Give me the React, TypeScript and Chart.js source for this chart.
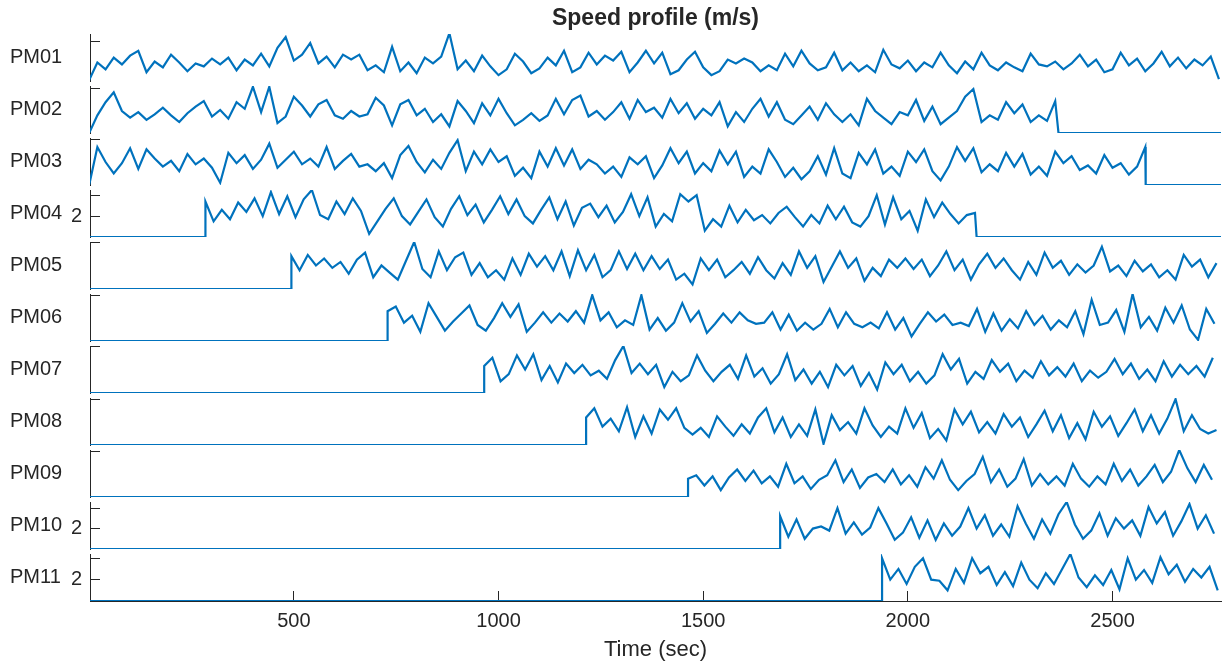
import React, { useEffect, useRef } from "react";
import { Chart, registerables } from "chart.js";

Chart.register(...registerables);

const FONT = "'Liberation Sans', Arial, Helvetica, sans-serif";
const TEXT = "#262626";
const LINE = "#0072BD";

Chart.defaults.font.family = FONT;
Chart.defaults.color = TEXT;

// ---------------- data ----------------
const TITLE = "Speed profile (m/s)";
const X_TITLE = "Time (sec)";
const STEP = 20; // seconds between readings
const X_MIN = 2;
const X_MAX = 2765;
const X_TICKS = [500, 1000, 1500, 2000, 2500];

const NAMES = ["PM01", "PM02", "PM03", "PM04", "PM05", "PM06", "PM07", "PM08", "PM09", "PM10", "PM11"];
const STARTS = [0, 0, 0, 284, 494, 729, 965, 1214, 1463, 1688, 1937];
const ENDS: (number | null)[] = [null, 2368, 2581, 2168, null, null, null, null, null, null, null];
const Y_MAX = [4.82, 4.27, 4.09, 4.5, 4.0, 4.1, 4.0, 4.1, 4.1, 4.6, 4.4];
const Y_TICKS = [[4], [4], [4], [2, 4], [4], [4], [4], [4], [4], [2, 4], [2, 4]];
const Y_LABELLED = [2];

const PM01 = [
  0.1, 1.9, 1.2, 2.4, 1.7, 2.6, 3.1, 0.9, 2.0, 1.4,
  2.7, 1.9, 1.0, 1.8, 1.5, 2.3, 1.7, 2.4, 1.1, 2.2,
  1.6, 2.8, 1.5, 3.4, 4.5, 2.1, 2.7, 3.9, 1.8, 2.5,
  1.4, 2.7, 2.2, 2.7, 1.1, 1.6, 0.9, 3.5, 1.0, 1.9,
  0.8, 2.4, 1.8, 2.5, 4.9, 1.2, 2.1, 1.0, 2.6, 1.5,
  0.6, 1.2, 2.8, 2.0, 0.8, 1.3, 2.4, 1.6, 3.1, 0.9,
  1.4, 2.9, 1.7, 2.6, 2.1, 3.0, 0.9, 1.9, 3.1, 1.8,
  2.9, 0.7, 1.1, 2.2, 3.0, 1.4, 0.6, 1.0, 2.2, 1.8,
  2.3, 1.9, 1.0, 1.6, 1.1, 2.8, 1.5, 3.1, 1.8, 1.1,
  1.4, 2.9, 1.1, 1.9, 1.0, 1.6, 0.9, 3.2, 1.7, 1.3,
  2.1, 1.0, 1.9, 1.4, 2.9, 1.6, 0.8, 2.0, 1.2, 2.9,
  1.6, 1.1, 1.9, 1.4, 1.0, 2.8, 1.7, 1.5, 2.0, 1.2,
  1.8, 2.7, 1.5, 2.2, 0.9, 1.2, 2.9, 1.6, 2.3, 1.0,
  1.8, 3.0, 1.5, 2.4, 1.3, 2.2, 1.6, 2.5, 0.2,
];
const PM02 = [
  0.0, 1.6, 2.8, 3.7, 2.0, 1.4, 1.9, 1.2, 1.7, 2.3,
  1.6, 1.0, 1.8, 2.4, 2.9, 1.5, 2.1, 1.3, 2.8, 2.2,
  4.2, 1.9, 4.2, 0.9, 1.5, 3.3, 2.5, 1.5, 2.6, 3.0,
  1.6, 1.3, 2.0, 1.5, 1.7, 3.2, 2.5, 0.7, 2.6, 3.0,
  1.6, 2.2, 1.0, 1.7, 0.6, 2.9, 2.0, 0.9, 2.7, 1.6,
  3.1, 1.8, 0.7, 1.2, 1.8, 1.1, 1.6, 3.1, 1.7, 3.0,
  3.4, 1.5, 2.0, 1.2, 1.9, 2.8, 1.3, 3.0, 1.9, 2.3,
  1.4, 3.1, 1.8, 2.7, 1.3, 2.2, 1.6, 2.8, 0.6, 1.9,
  1.0, 2.2, 3.1, 1.5, 2.8, 1.2, 0.8, 1.6, 2.4, 1.2,
  2.7, 1.7, 1.0, 1.7, 0.7, 3.1, 2.0, 1.4, 0.8, 1.9,
  1.6, 3.0, 1.1, 2.4, 0.8, 1.4, 2.0, 3.3, 4.0, 1.0,
  1.6, 1.2, 2.8, 1.8, 2.6, 1.0, 1.6, 1.1, 2.9,
];
const PM03 = [
  0.0, 3.3, 2.0, 1.0, 1.9, 3.2, 1.4, 3.1, 2.3, 1.6,
  2.1, 1.2, 2.7, 1.8, 2.3, 1.5, 0.2, 2.8, 1.9, 2.6,
  1.4, 2.2, 3.6, 1.5, 2.2, 2.9, 1.8, 2.3, 1.6, 3.3,
  1.4, 2.1, 2.7, 1.6, 1.8, 1.2, 1.9, 0.6, 2.6, 3.4,
  2.0, 1.1, 2.2, 1.4, 2.8, 3.9, 1.2, 2.9, 1.8, 3.1,
  2.0, 2.5, 0.8, 1.5, 0.6, 2.9, 1.6, 3.2, 1.7, 3.1,
  1.4, 2.2, 1.8, 1.0, 1.6, 0.7, 2.4, 1.8, 2.5, 0.6,
  1.7, 3.2, 1.9, 2.9, 1.0, 1.9, 1.2, 3.0, 1.8, 2.9,
  0.7, 1.6, 1.0, 3.1, 2.0, 0.7, 1.5, 0.5, 1.2, 2.5,
  0.9, 3.2, 1.0, 0.6, 2.8, 1.8, 3.1, 1.0, 1.6, 0.8,
  2.9, 2.0, 3.1, 1.2, 0.4, 1.6, 3.3, 2.1, 3.2, 1.1,
  1.8, 1.2, 2.8, 1.6, 2.7, 0.9, 1.6, 0.8, 2.9, 1.9,
  2.5, 1.3, 1.7, 1.0, 2.6, 1.5, 1.9, 0.9, 1.6, 3.3,
];
const PM04 = [
  3.4, 1.5, 2.6, 1.7, 3.3, 2.4, 3.7, 2.0, 4.3, 2.2,
  3.9, 1.9, 3.6, 4.5, 2.1, 1.7, 3.4, 2.2, 3.7, 2.5,
  0.3, 1.5, 2.7, 3.7, 2.0, 1.2, 2.4, 3.6, 1.9, 1.0,
  2.7, 3.9, 2.1, 3.1, 1.4, 2.6, 3.9, 2.2, 3.6, 2.0,
  1.3, 2.6, 3.8, 1.7, 3.4, 1.1, 2.8, 3.2, 1.9, 3.0,
  1.4, 2.4, 4.1, 2.0, 3.8, 1.0, 2.2, 1.5, 4.1, 3.4,
  4.0, 0.6, 1.7, 1.0, 3.0, 1.4, 2.6, 1.6, 2.1, 1.3,
  2.3, 2.9, 1.9, 1.0, 2.1, 1.3, 3.0, 1.7, 2.9, 1.4,
  1.0, 2.0, 4.0, 1.2, 3.8, 1.7, 2.5, 0.6, 3.6, 1.9,
  3.3, 2.2, 1.3, 2.1, 2.3,
];
const PM05 = [
  2.8, 1.6, 2.9, 2.0, 2.6, 1.8, 2.3, 1.3, 2.5, 3.1,
  1.0, 2.0, 1.4, 0.8, 2.4, 4.0, 1.7, 1.0, 3.2, 1.6,
  2.7, 3.1, 1.2, 2.2, 1.0, 1.6, 0.8, 2.6, 1.2, 3.0,
  1.9, 2.8, 1.6, 3.2, 1.1, 3.3, 1.6, 2.9, 1.0, 1.6,
  3.2, 1.7, 3.0, 1.6, 2.8, 1.7, 2.5, 0.8, 1.3, 0.4,
  2.6, 1.6, 2.5, 1.0, 1.6, 2.3, 1.3, 2.7, 1.6, 0.9,
  2.2, 1.2, 3.2, 1.8, 2.8, 0.6, 1.9, 3.2, 1.8, 2.6,
  0.7, 1.8, 1.1, 2.5, 1.8, 2.6, 1.7, 2.5, 1.1, 2.0,
  3.2, 1.6, 2.5, 0.8, 2.1, 3.0, 1.8, 2.6, 1.6, 0.8,
  2.3, 1.2, 3.1, 1.8, 2.4, 1.2, 2.1, 1.4, 2.0, 3.6,
  1.5, 2.0, 1.1, 2.4, 1.5, 2.1, 1.0, 1.6, 0.8, 2.9,
  1.9, 2.5, 1.0, 2.2,
];
const PM06 = [
  2.6, 3.0, 1.6, 2.2, 0.8, 3.3, 2.1, 0.9, 1.7, 2.4,
  3.1, 1.4, 0.9, 2.0, 3.3, 2.1, 3.2, 0.8, 1.6, 2.5,
  1.6, 2.4, 1.7, 2.6, 1.6, 4.0, 1.8, 2.5, 1.2, 1.8,
  1.4, 4.0, 1.0, 2.0, 0.9, 1.6, 3.3, 1.7, 2.6, 0.7,
  1.5, 2.4, 1.6, 2.5, 1.8, 1.5, 1.6, 2.5, 1.0, 2.3,
  0.9, 1.6, 1.0, 1.5, 2.8, 1.2, 2.5, 1.5, 1.2, 1.6,
  1.1, 2.5, 1.0, 2.0, 0.4, 1.5, 2.5, 1.7, 2.3, 1.4,
  1.6, 1.3, 2.8, 0.8, 2.4, 0.9, 1.9, 1.1, 2.6, 1.4,
  2.2, 1.0, 1.8, 1.2, 2.6, 0.6, 3.6, 1.4, 1.6, 2.7,
  0.8, 4.1, 1.2, 2.1, 0.9, 2.9, 1.6, 3.1, 1.0, 0.1,
  2.8, 1.5,
];
const PM07 = [
  2.3, 3.0, 1.0, 1.6, 3.2, 2.0, 3.3, 1.1, 2.3, 0.9,
  2.5, 1.7, 2.4, 1.5, 1.9, 1.2, 2.8, 4.0, 1.7, 2.5,
  1.6, 2.4, 0.5, 1.8, 1.0, 1.5, 3.2, 1.9, 1.0, 1.8,
  2.4, 1.2, 3.2, 1.4, 2.1, 0.8, 1.6, 3.3, 1.1, 2.0,
  0.8, 1.8, 0.5, 2.4, 1.5, 2.3, 0.6, 1.7, 0.3, 2.6,
  1.6, 2.4, 1.0, 1.8, 0.8, 1.5, 3.3, 2.0, 2.9, 0.8,
  1.8, 1.2, 2.8, 1.8, 2.5, 1.0, 1.9, 1.3, 2.7, 1.5,
  2.2, 1.4, 2.5, 1.0, 1.9, 1.3, 1.8, 2.9, 1.6, 2.5,
  1.2, 2.0, 1.0, 2.7, 1.4, 2.4, 1.6, 2.3, 1.4, 3.0,
];
const PM08 = [
  2.4, 3.2, 1.6, 2.3, 1.2, 3.3, 0.7, 2.5, 1.0, 3.1,
  2.2, 3.2, 1.5, 0.9, 1.5, 0.7, 2.5, 1.6, 0.8, 1.8,
  1.0, 2.4, 3.2, 1.1, 2.4, 0.7, 1.8, 0.8, 3.1, 0.1,
  2.6, 1.3, 2.0, 1.0, 3.2, 1.7, 0.7, 1.6, 1.0, 3.2,
  1.5, 2.8, 0.6, 1.4, 0.4, 3.1, 1.8, 2.9, 1.1, 2.0,
  1.0, 2.7, 1.6, 2.4, 0.7, 1.8, 3.0, 1.2, 2.6, 0.6,
  1.9, 0.5, 2.9, 1.6, 2.5, 0.8, 1.9, 3.1, 1.2, 2.6,
  1.0, 2.3, 4.0, 1.2, 2.6, 1.4, 1.0, 1.3,
];
const PM09 = [
  1.6, 1.9, 1.0, 1.8, 0.6, 1.7, 2.4, 1.4, 2.3, 1.2,
  1.8, 0.9, 2.9, 1.2, 1.8, 0.7, 1.5, 1.9, 3.2, 1.3,
  2.4, 0.8, 1.7, 2.0, 1.3, 2.4, 1.1, 1.9, 0.9, 2.6,
  1.6, 3.2, 1.5, 0.6, 1.4, 2.0, 3.5, 1.3, 2.4, 0.9,
  1.6, 3.3, 1.0, 2.0, 1.1, 1.8, 1.0, 2.9, 1.6, 0.9,
  1.8, 1.1, 2.9, 1.4, 2.4, 1.0, 1.8, 2.8, 1.3, 2.2,
  4.1, 2.5, 1.3, 2.8, 1.5,
];
const PM10 = [
  3.2, 1.2, 2.9, 1.0, 2.0, 2.2, 1.8, 4.0, 1.5, 2.6,
  1.4, 2.1, 4.0, 2.5, 0.9, 1.6, 3.1, 1.1, 2.8, 0.9,
  2.5, 1.3, 2.2, 4.0, 2.0, 3.3, 1.3, 2.4, 1.2, 4.2,
  2.5, 1.0, 2.9, 1.5, 3.4, 4.6, 2.4, 1.0, 1.8, 3.5,
  1.3, 3.0, 2.0, 2.8, 1.3, 4.1, 2.5, 3.6, 1.3, 2.7,
  4.4, 2.0, 3.3, 1.5,
];
const PM11 = [
  4.0, 2.0, 3.0, 1.6, 3.2, 4.0, 2.0, 1.9, 1.0, 3.0,
  1.7, 4.0, 2.6, 3.2, 1.5, 2.7, 1.4, 3.6, 2.0, 1.2,
  2.6, 1.6, 3.0, 4.4, 2.2, 1.3, 2.4, 1.5, 2.9, 1.1,
  4.0, 2.0, 2.9, 1.7, 4.1, 2.5, 3.4, 1.8, 3.0, 2.2,
  3.2, 1.0,
];

const SERIES = [PM01, PM02, PM03, PM04, PM05, PM06, PM07, PM08, PM09, PM10, PM11];

// ---------------- layout ----------------
const W = 1226;
const H = 664;
const AXIS_W = 90;
const RIGHT_PAD = 5;
const STRIP_TOP0 = 34;
const STRIP_PITCH = 52;
const STRIP_H = 47;
const PAD = 6;
const X_AXIS_H = 63;

function buildPoints(values: number[], start: number, end: number | null) {
  const pts: { x: number; y: number }[] = [];
  if (start > X_MIN) {
    pts.push({ x: X_MIN, y: 0 });
    pts.push({ x: start, y: 0 });
  }
  values.forEach((v, k) => pts.push({ x: start + k * STEP, y: v }));
  if (end !== null) {
    pts.push({ x: end, y: 0 });
    pts.push({ x: X_MAX, y: 0 });
  }
  return pts;
}

const stripLabelPlugin = {
  id: "stripLabel",
  afterDraw(chart: any, _args: any, opts: any) {
    const { ctx, chartArea } = chart;
    ctx.save();
    ctx.font = `20px ${FONT}`;
    ctx.fillStyle = TEXT;
    ctx.textAlign = "left";
    ctx.textBaseline = "middle";
    ctx.fillText(opts.text, 10, (chartArea.top + chartArea.bottom) / 2);
    ctx.restore();
  },
};

function canvasBox(i: number) {
  const last = i === NAMES.length - 1;
  const top = STRIP_TOP0 + STRIP_PITCH * i;
  if (i === 0) return { top: 0, height: top + STRIP_H + PAD };
  if (last) return { top: top - PAD, height: H - (top - PAD) };
  return { top: top - PAD, height: STRIP_H + 2 * PAD };
}

function zeroPadding(s: any) {
  s.paddingTop = 0;
  s.paddingBottom = 0;
  s.paddingLeft = 0;
  s.paddingRight = 0;
}

export default function App() {
  const refs = useRef<(HTMLCanvasElement | null)[]>([]);

  useEffect(() => {
    const charts: Chart[] = [];
    NAMES.forEach((name, i) => {
      const canvas = refs.current[i];
      if (!canvas) return;
      const first = i === 0;
      const last = i === NAMES.length - 1;
      const ticksY = Y_TICKS[i];
      const chart = new Chart(canvas, {
        type: "line",
        data: {
          datasets: [
            {
              label: name,
              data: buildPoints(SERIES[i], STARTS[i], ENDS[i]),
              borderColor: LINE,
              borderWidth: 2.2,
              pointRadius: 0,
              tension: 0,
              fill: false,
            },
          ],
        },
        options: {
          animation: false,
          responsive: false,
          devicePixelRatio: 1,
          events: [],
          layout: {
            padding: { top: first ? 0 : PAD, bottom: last ? 0 : PAD, left: 0, right: RIGHT_PAD },
          },
          plugins: {
            legend: { display: false },
            tooltip: { enabled: false },
            title: first
              ? {
                  display: true,
                  text: TITLE,
                  fullSize: false,
                  color: TEXT,
                  font: { size: 23, weight: "bold", family: FONT },
                  padding: { top: 4.4, bottom: 2 },
                }
              : { display: false },
            stripLabel: { text: name },
          } as any,
          scales: {
            x: {
              type: "linear",
              min: X_MIN,
              max: X_MAX,
              display: last,
              afterBuildTicks: (s: any) => {
                s.ticks = X_TICKS.map((v) => ({ value: v }));
              },
              afterFit: (s: any) => {
                s.height = last ? X_AXIS_H : 0;
                zeroPadding(s);
              },
              grid: { drawOnChartArea: false, drawTicks: true, tickLength: -10, color: TEXT, lineWidth: 1 },
              border: { display: true, color: TEXT, width: 1 },
              ticks: {
                padding: 18,
                color: TEXT,
                font: { size: 20, family: FONT },
                maxRotation: 0,
                autoSkip: false,
                callback: (v: any) => String(v),
              },
              title: {
                display: true,
                text: X_TITLE,
                color: TEXT,
                font: { size: 22, family: FONT },
                padding: { top: 0, bottom: 1 },
              },
            },
            y: {
              type: "linear",
              min: 0,
              max: Y_MAX[i],
              afterBuildTicks: (s: any) => {
                s.ticks = ticksY.map((v) => ({ value: v }));
              },
              afterFit: (s: any) => {
                s.width = AXIS_W;
                zeroPadding(s);
              },
              grid: { drawOnChartArea: false, drawTicks: true, tickLength: -10, color: TEXT, lineWidth: 1 },
              border: { display: true, color: TEXT, width: 1 },
              ticks: {
                padding: 18,
                color: TEXT,
                font: { size: 20, family: FONT },
                autoSkip: false,
                callback: (v: any) => (Y_LABELLED.includes(Number(v)) ? String(v) : ""),
              },
            },
          },
        } as any,
        plugins: [stripLabelPlugin],
      });
      charts.push(chart);
    });
    return () => charts.forEach((c) => c.destroy());
  }, []);

  return (
    <div style={{ position: "fixed", left: 0, top: 0, width: W, height: H, background: "#fff" }}>
      {NAMES.map((name, i) => {
        const box = canvasBox(i);
        return (
          <canvas
            key={name}
            ref={(el) => {
              refs.current[i] = el;
            }}
            width={W}
            height={box.height}
            style={{ position: "absolute", left: 0, top: box.top, width: W, height: box.height, display: "block" }}
          />
        );
      })}
    </div>
  );
}
